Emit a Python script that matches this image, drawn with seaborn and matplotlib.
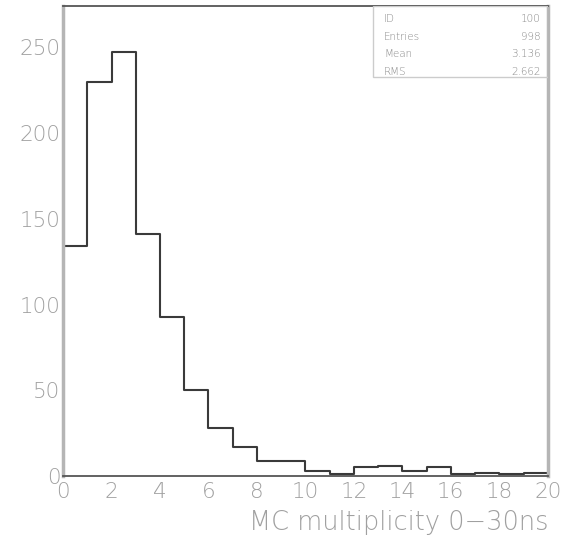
import numpy as np
import matplotlib
matplotlib.use("Agg")
import matplotlib.pyplot as plt
import seaborn as sns

# Data
bin_edges = list(range(0, 21))
counts = [134, 230, 247, 141, 93, 50, 28, 17, 9, 9, 3, 1, 5, 6, 3, 5, 1, 2, 1, 2]
stat_names = ["ID", "Entries", "Mean", "RMS"]
stat_values = ["100", "998", "3.136", "2.662"]
x_label = "MC multiplicity 0\u221230ns"
x_ticks = list(range(0, 21, 2))
y_ticks = [0, 50, 100, 150, 200, 250]

sns.set_theme(style="white")
plt.rcParams['font.family'] = ['DejaVu Sans']

fig = plt.figure(figsize=(5.63, 5.5), dpi=100)
ax = fig.add_axes([0.112, 0.1345, 0.861, 0.8545])

centers = [e + 0.5 for e in bin_edges[:-1]]
sns.histplot(x=centers, weights=counts, bins=bin_edges, element="step",
             fill=False, color="#3a3a3a", linewidth=1.5, ax=ax)

ax.set_xlim(0, 20)
ax.set_ylim(0, 274)
ax.set_xticks(x_ticks)
ax.set_yticks(y_ticks)
ax.set_xticklabels([str(t) for t in x_ticks])
ax.set_yticklabels([str(t) for t in y_ticks])
ax.set_ylabel("")
ax.set_xlabel("")

gray = "#a0a0a0"
ax.tick_params(axis="both", direction="in", length=6, width=1.2, colors="#555555",
               labelcolor=gray, labelsize=15.5)
ax.tick_params(axis="x", pad=4)
ax.tick_params(axis="y", pad=2)
for lab in ax.get_xticklabels() + ax.get_yticklabels():
    lab.set_fontweight("ultralight")

for side in ["left", "right"]:
    ax.spines[side].set_color("#b5b5b5")
    ax.spines[side].set_linewidth(2.5)
for side in ["top", "bottom"]:
    ax.spines[side].set_color("#555555")
    ax.spines[side].set_linewidth(1.3)

fig.text(0.975, 0.05, x_label, ha="right", va="center", color=gray,
         fontsize=18.5, fontweight="ultralight")

# Stats box
from matplotlib.patches import Rectangle
box = Rectangle((0.639, 0.849), 0.361, 0.151, transform=ax.transAxes,
                fill=False, edgecolor="#cccccc", linewidth=1.0, zorder=5)
ax.add_patch(box)
line_y = [0.972, 0.935, 0.897, 0.860]
for name, val, yy in zip(stat_names, stat_values, line_y):
    ax.text(0.662, yy, name, transform=ax.transAxes, ha="left", va="center",
            fontsize=7.5, color="#888888", fontweight="ultralight")
    ax.text(0.985, yy, val, transform=ax.transAxes, ha="right", va="center",
            fontsize=7.5, color="#888888", fontweight="ultralight")

fig.savefig("out.png", dpi=100, facecolor="white")
